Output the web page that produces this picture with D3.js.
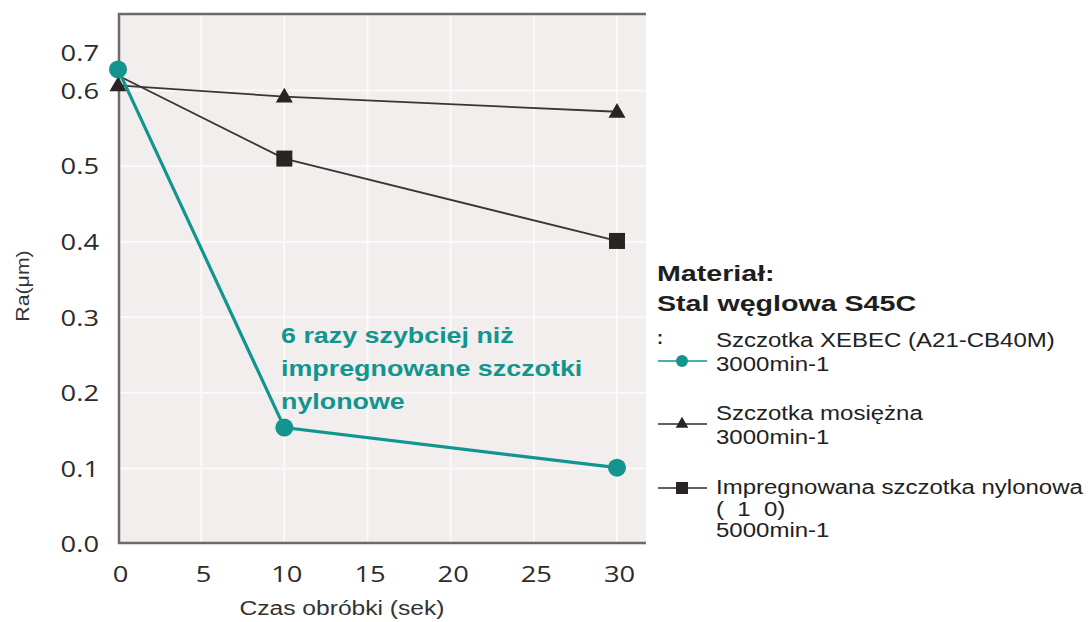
<!DOCTYPE html>
<html lang="pl">

<head>
    <meta charset="UTF-8">
    <script src="https://cdnjs.cloudflare.com/ajax/libs/d3/7.9.0/d3.min.js"></script>
    <title>Ra vs czas obróbki</title>
    <style>
        body {
            margin: 0;
            background-color: white;
            font-family: "Liberation Sans", Arial, sans-serif;
        }

        svg {
            display: block;
        }
    </style>
</head>

<body>
    <div id="content"></div>
    <script>
        // data
        const times = [0, 10, 30];
        const xebec = [0.628, 0.154, 0.101];
        const brass = [0.607, 0.592, 0.572];
        const nylon = [0.62, 0.51, 0.401];

        const xTicks = [0, 5, 10, 15, 20, 25, 30];
        const yGrid = [0.1, 0.2, 0.3, 0.4, 0.5, 0.6];
        const yTickValues = [0, 0.1, 0.2, 0.3, 0.4, 0.5, 0.6, 0.65];
        const yTickLabels = ["0.0", "0.1", "0.2", "0.3", "0.4", "0.5", "0.6", "0.7"];

        const legendTitle = ["Materiał:", "Stal węglowa S45C"];
        const legendItems = [
            ["Szczotka XEBEC (A21-CB40M)", "3000min-1"],
            ["Szczotka mosiężna", "3000min-1"],
            ["Impregnowana szczotka nylonowa", "(  1  0)", "5000min-1"]
        ];
        const noteLines = ["6 razy szybciej niż", "impregnowane szczotki", "nylonowe"];

        const width = 1089;
        const height = 622;
        const teal = "#11958e";
        const dark = "#2a2424";

        // the source text is wider than Liberation Sans, so stretch it a bit
        const stretch = (sel, k) => sel.each(function () {
            const n = this.getComputedTextLength();
            d3.select(this).attr("textLength", n * k).attr("lengthAdjust", "spacingAndGlyphs");
        });

        const svg = d3.select("#content").append("svg")
            .attr("width", width)
            .attr("height", height);

        const x = d3.scaleLinear().domain([0, 30]).range([118, 617]);
        const y = d3.scaleLinear().domain([0, 0.7]).range([544, 15]);
        const plotLeft = 119, plotRight = 646, plotTop = 14, plotBottom = 543;

        // plot background
        svg.append("rect")
            .attr("x", plotLeft)
            .attr("y", plotTop)
            .attr("width", plotRight - plotLeft)
            .attr("height", plotBottom - plotTop)
            .attr("fill", "#f1eeed");

        // grid
        svg.append("g").selectAll("line")
            .data(xTicks.slice(1))
            .enter().append("line")
            .attr("x1", d => x(d)).attr("x2", d => x(d))
            .attr("y1", plotTop).attr("y2", plotBottom)
            .attr("stroke", "#fbfafa").attr("stroke-width", 2);
        svg.append("g").selectAll("line")
            .data(yGrid)
            .enter().append("line")
            .attr("x1", plotLeft).attr("x2", plotRight)
            .attr("y1", d => y(d)).attr("y2", d => y(d))
            .attr("stroke", "#fbfafa").attr("stroke-width", 2);

        // frame (top, left, bottom)
        svg.append("path")
            .attr("d", `M${plotRight},${plotTop}H${plotLeft}V${plotBottom}H${plotRight}`)
            .attr("fill", "none")
            .attr("stroke", "#6e6a6a")
            .attr("stroke-width", 2.5);

        // x axis labels
        const xAxis = d3.axisBottom(x).tickValues(xTicks).tickSize(0).tickPadding(24);
        const gx = svg.append("g")
            .attr("transform", `translate(2, ${plotBottom})`)
            .call(xAxis);
        gx.select(".domain").remove();
        gx.selectAll("text")
            .attr("font-family", "'Open Sans', 'Liberation Sans', sans-serif")
            .attr("font-size", 21)
            .attr("fill", "#2b2b2b")
            .call(stretch, 1.3);

        // y axis labels
        const yAxis = d3.axisLeft(y).tickValues(yTickValues)
            .tickFormat((d, i) => yTickLabels[i]).tickSize(0).tickPadding(20);
        const gy = svg.append("g")
            .attr("transform", `translate(${plotLeft}, 1)`)
            .call(yAxis);
        gy.select(".domain").remove();
        gy.selectAll("text")
            .attr("font-family", "'Open Sans', 'Liberation Sans', sans-serif")
            .attr("font-size", 21)
            .attr("fill", "#2b2b2b")
            .call(stretch, 1.3);

        // axis titles
        svg.append("text")
            .attr("x", 342).attr("y", 615)
            .attr("text-anchor", "middle")
            .attr("font-size", 20)
            .attr("fill", "#333")
            .text("Czas obróbki (sek)")
            .call(stretch, 1.23);
        svg.append("text")
            .attr("transform", "translate(29, 286) rotate(-90)")
            .attr("text-anchor", "middle")
            .attr("font-size", 19)
            .attr("fill", "#333")
            .text("Ra(μm)")
            .call(stretch, 1.12);

        const line = d3.line().x((d, i) => x(times[i])).y(d => y(d));

        // nylon (squares)
        svg.append("path").datum(nylon)
            .attr("d", line).attr("fill", "none")
            .attr("stroke", "#3a3434").attr("stroke-width", 1.8);
        svg.append("g").selectAll("rect")
            .data(nylon.slice(1))
            .enter().append("rect")
            .attr("x", (d, i) => x(times[i + 1]) - 8)
            .attr("y", d => y(d) - 8)
            .attr("width", 16).attr("height", 16)
            .attr("fill", dark);

        // brass (triangles)
        svg.append("path").datum(brass)
            .attr("d", line).attr("fill", "none")
            .attr("stroke", "#3a3434").attr("stroke-width", 1.8);
        const tri = d3.symbol().type(d3.symbolTriangle).size(125);
        svg.append("g").selectAll("path")
            .data(brass)
            .enter().append("path")
            .attr("d", tri)
            .attr("transform", (d, i) => `translate(${x(times[i])}, ${y(d) + 1})`)
            .attr("fill", dark);

        // xebec (circles)
        svg.append("path").datum(xebec)
            .attr("d", line).attr("fill", "none")
            .attr("stroke", teal).attr("stroke-width", 3.2);
        svg.append("g").selectAll("circle")
            .data(xebec)
            .enter().append("circle")
            .attr("cx", (d, i) => x(times[i]))
            .attr("cy", d => y(d))
            .attr("r", 9)
            .attr("fill", teal);

        // annotation
        svg.append("text")
            .attr("font-size", 22).attr("font-weight", "bold")
            .attr("fill", teal)
            .selectAll("tspan")
            .data(noteLines)
            .enter().append("tspan")
            .attr("x", 281)
            .attr("y", (d, i) => 343 + i * 33)
            .text(d => d)
            .call(stretch, 1.22);

        // legend
        const legend = svg.append("g");
        legend.selectAll("text.title")
            .data(legendTitle)
            .enter().append("text")
            .attr("class", "title")
            .attr("x", 657)
            .attr("y", (d, i) => 281 + i * 30)
            .attr("font-size", 22).attr("font-weight", "bold")
            .attr("fill", "#1e1e1e")
            .text(d => d)
            .call(stretch, 1.3);
        legend.append("text")
            .attr("x", 657).attr("y", 344)
            .attr("font-size", 18).attr("font-weight", "bold")
            .attr("fill", "#1e1e1e")
            .text(":");

        const itemTop = [347, 420, 494];
        const itemStep = [24, 24, 21.5];
        const symY = [361, 424, 488];
        legendItems.forEach((lines, k) => {
            legend.append("text")
                .attr("font-size", 20).attr("fill", "#222")
                .style("white-space", "pre")
                .selectAll("tspan")
                .data(lines)
                .enter().append("tspan")
                .attr("x", 716)
                .attr("y", (d, i) => itemTop[k] + i * itemStep[k])
                .text(d => d)
                .call(stretch, 1.2);
            legend.append("line")
                .attr("x1", 658).attr("x2", 707)
                .attr("y1", symY[k]).attr("y2", symY[k])
                .attr("stroke", k === 0 ? teal : "#2a2a2a")
                .attr("stroke-width", 1.6);
        });
        legend.append("circle")
            .attr("cx", 682).attr("cy", symY[0]).attr("r", 6)
            .attr("fill", teal);
        legend.append("path")
            .attr("d", d3.symbol().type(d3.symbolTriangle).size(70))
            .attr("transform", `translate(682, ${symY[1]})`)
            .attr("fill", dark);
        legend.append("rect")
            .attr("x", 676).attr("y", symY[2] - 6)
            .attr("width", 12).attr("height", 12)
            .attr("fill", dark);
    </script>
</body>

</html>
